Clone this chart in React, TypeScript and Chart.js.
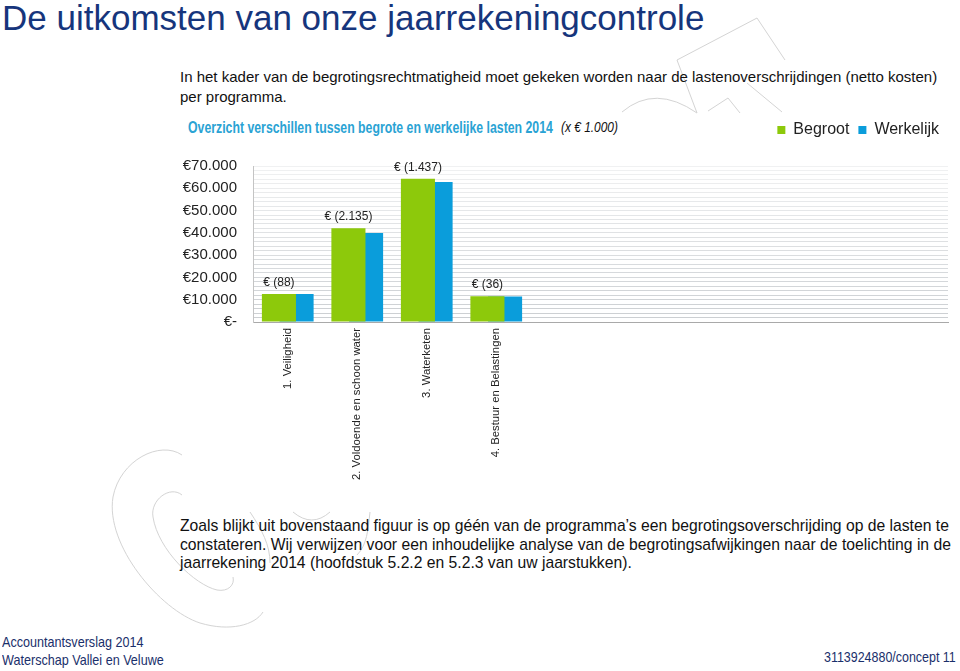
import React, { useEffect, useRef } from 'react';
import { Chart, registerables } from 'chart.js';

Chart.register(...registerables);

// ---- data ----
const categories = [
  '1. Veiligheid',
  '2. Voldoende en schoon water',
  '3. Waterketen',
  '4. Bestuur en Belastingen',
  '', '', '', '', '', '',
];
const begroot = [12600, 42100, 64300, 11500];
const werkelijk = [12512, 39965, 62863, 11464];
const verschil = [88, 2135, 1437, 36];
const seriesNames = ['Begroot', 'Werkelijk'];
const yMax = 70000;
const yLabelStep = 10000;
const yGridStep = 2000;

const GREEN = '#8DC90B';
const BLUE = '#0A9DDB';
const FONT = "Arial, 'Liberation Sans', sans-serif";

const fmt = (n: number) => String(Math.round(n)).replace(/\B(?=(\d{3})+(?!\d))/g, '.');

const legendGap = {
  id: 'legendGap',
  beforeLayout(chart: any) {
    const lg = chart.legend;
    if (lg && !lg.__patched) {
      const orig = lg.fit;
      lg.fit = function () {
        orig.call(this);
        this.height += 18;
      };
      lg.__patched = true;
    }
  },
};

const diffLabels = {
  id: 'diffLabels',
  afterDatasetsDraw(chart: any) {
    const ctx = chart.ctx;
    const meta = chart.getDatasetMeta(0);
    ctx.save();
    ctx.font = `12px ${FONT}`;
    ctx.fillStyle = '#222';
    ctx.textAlign = 'center';
    ctx.textBaseline = 'middle';
    meta.data.forEach((bar: any, i: number) => {
      if (verschil[i] === undefined) return;
      ctx.fillText(`€ (${fmt(verschil[i])})`, bar.x, bar.y - 11.5);
    });
    ctx.restore();
  },
};

function BarChart() {
  const ref = useRef<HTMLCanvasElement | null>(null);
  useEffect(() => {
    if (!ref.current) return;
    const chart = new Chart(ref.current, {
      type: 'bar',
      data: {
        labels: categories,
        datasets: [
          { label: seriesNames[0], data: begroot, backgroundColor: GREEN, borderWidth: 0 },
          { label: seriesNames[1], data: werkelijk, backgroundColor: BLUE, borderWidth: 0 },
        ],
      },
      options: {
        animation: false,
        responsive: false,
        maintainAspectRatio: false,
        layout: { padding: { top: 1, right: 12, left: 0, bottom: 0 } },
        datasets: {
          bar: { categoryPercentage: 0.508, barPercentage: 1.93 },
        } as any,
        plugins: {
          legend: {
            position: 'top',
            align: 'end',
            labels: {
              boxWidth: 8,
              boxHeight: 8,
              padding: 9,
              color: '#222',
              font: { size: 16, family: FONT },
            },
          },
          tooltip: { enabled: false },
        },
        scales: {
          x: {
            grid: { display: false, drawTicks: false },
            border: { display: true, color: '#a9a9a9', width: 1 },
            ticks: {
              autoSkip: false,
              maxRotation: 90,
              minRotation: 90,
              padding: 6,
              color: '#222',
              font: { size: 11.3, family: FONT },
            },
            afterFit: (s: any) => { s.height = 170; },
          },
          y: {
            min: 0,
            max: yMax,
            grid: {
              drawTicks: false,
              color: (c: any) => {
                const v = c.tick ? c.tick.value : 0;
                if (v === 0) return '#a9a9a9';
                const t = v / yMax;
                return `rgba(180,185,190,${(0.7 - 0.5 * t).toFixed(3)})`;
              },
            },
            border: { display: true, color: '#c4c4c4', width: 1 },
            ticks: {
              stepSize: yGridStep,
              autoSkip: false,
              padding: 16,
              color: '#222',
              font: { size: 15, family: FONT },
              callback: (v: any) => {
                const n = Number(v);
                if (n % yLabelStep !== 0) return '';
                return n === 0 ? '€-' : `€${fmt(n)}`;
              },
            },
            afterFit: (s: any) => { s.width = 253; },
          },
        },
      },
      plugins: [legendGap, diffLabels],
    } as any);
    return () => chart.destroy();
  }, []);
  return (
    <canvas
      ref={ref}
      width={960}
      height={380}
      style={{ position: 'absolute', left: 0, top: 112, width: 960, height: 380 }}
    />
  );
}

const narrow = (scale: number): React.CSSProperties => ({
  display: 'inline-block',
  transform: `scaleX(${scale})`,
  transformOrigin: 'left center',
  whiteSpace: 'nowrap',
});

export default function App() {
  useEffect(() => {
    document.body.style.margin = '0';
  }, []);
  const base: React.CSSProperties = { position: 'absolute', fontFamily: FONT, whiteSpace: 'nowrap' };
  return (
    <div style={{ position: 'absolute', left: 0, top: 0, width: 960, height: 671, background: '#fff', overflow: 'hidden' }}>
      <svg width={960} height={671} style={{ position: 'absolute', left: 0, top: 0 }}>
        <g fill="none" stroke="#d4d4d4" strokeWidth={1}>
          <path d="M677,60 L757,18 L785,60" />
          <path d="M677,60 L697,113" />
          <path d="M747,83 L782,112" />
          <path d="M622,112 Q655,84 697,113" />
          <path d="M708,111 L728,98 L740,113" />
          <path d="M182,455 C160,440 120,460 113,497 C105,545 160,610 200,623 C230,632 255,625 263,612" />
          <path d="M182,495 C170,485 150,500 153,517 C158,550 195,585 217,590 C228,592 235,585 233,577" />
          <path d="M250,512 C262,530 270,545 270,563" />
          <path d="M293,512 Q312,528 330,512" />
          <path d="M370,512 C368,530 367,545 357,555" />
        </g>
      </svg>
      <div style={{ ...base, left: 2, top: 0, fontSize: 35, lineHeight: '35px', color: '#16357c' }}>
        De uitkomsten van onze jaarrekeningcontrole
      </div>
      <div style={{ ...base, left: 180, top: 67, fontSize: 15, lineHeight: '20px', color: '#111' }}>
        In het kader van de begrotingsrechtmatigheid moet gekeken worden naar de lastenoverschrijdingen (netto kosten)
        <br />
        per programma.
      </div>
      <div style={{ ...base, left: 188, top: 116, fontSize: 16.5, lineHeight: '22px', color: '#2aa3d4', fontWeight: 'bold' }}>
        <span style={narrow(0.745)}>Overzicht verschillen tussen begrote en werkelijke lasten 2014</span>
      </div>
      <div style={{ ...base, left: 561, top: 117, fontSize: 14, lineHeight: '20px', color: '#111', fontStyle: 'italic' }}>
        <span style={narrow(0.85)}>(x € 1.000)</span>
      </div>
      <BarChart />
      <div style={{ ...base, left: 180, top: 517, fontSize: 15.7, lineHeight: '18.7px', color: '#111' }}>
        Zoals blijkt uit bovenstaand figuur is op géén van de programma’s een begrotingsoverschrijding op de lasten te
        <br />
        constateren. Wij verwijzen voor een inhoudelijke analyse van de begrotingsafwijkingen naar de toelichting in de
        <br />
        jaarrekening 2014 (hoofdstuk 5.2.2 en 5.2.3 van uw jaarstukken).
      </div>
      <div style={{ ...base, left: 2, top: 633, fontSize: 15, lineHeight: '18px', color: '#1a2f6b' }}>
        <span style={narrow(0.84)}>Accountantsverslag 2014</span>
        <br />
        <span style={narrow(0.84)}>Waterschap Vallei en Veluwe</span>
      </div>
      <div style={{ ...base, right: 4, top: 648, fontSize: 15, lineHeight: '18px', color: '#1a2f6b', textAlign: 'right' }}>
        <span style={{ ...narrow(0.83), transformOrigin: 'right center' }}>3113924880/concept 11</span>
      </div>
    </div>
  );
}
